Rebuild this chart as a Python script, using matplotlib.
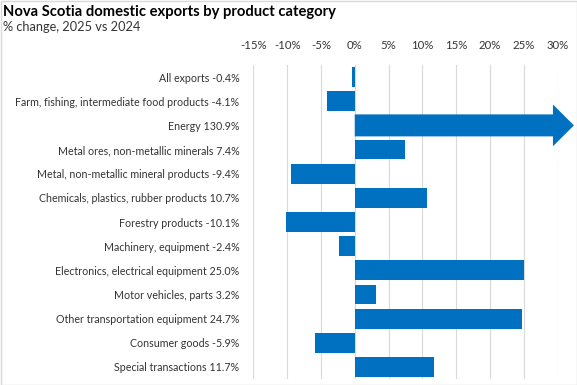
import matplotlib
matplotlib.use("Agg")
import matplotlib.pyplot as plt
from matplotlib.patches import Rectangle, FancyArrow

categories = ["All exports", "Farm, fishing, intermediate food products", "Energy",
              "Metal ores, non-metallic minerals", "Metal, non-metallic mineral products",
              "Chemicals, plastics, rubber products", "Forestry products",
              "Machinery, equipment", "Electronics, electrical equipment",
              "Motor vehicles, parts", "Other transportation equipment",
              "Consumer goods", "Special transactions"]
values = [-0.4, -4.1, 130.9, 7.4, -9.4, 10.7, -10.1, -2.4, 25.0, 3.2, 24.7, -5.9, 11.7]
xticks = [-15, -10, -5, 0, 5, 10, 15, 20, 25, 30]
xtick_labels = ["-15%", "-10%", "-5%", "0%", "5%", "10%", "15%", "20%", "25%", "30%"]

plt.rcParams['font.family'] = ['Lato', 'DejaVu Sans']
BLUE = "#0070C0"
GRID = "#D9D9D9"
TXT = "#333333"

fig = plt.figure(figsize=(5.77, 3.85), dpi=100)
ax = fig.add_axes([253.3/577, 1-379/385, (557.7-253.3)/577, (379-65)/385])
xmin, xmax = -15, 30
ax.set_xlim(xmin, xmax)
n = len(categories)
ax.set_ylim(n-0.5, -0.5)

ypos = list(range(n))
for i, v in enumerate(values):
    if v > xmax:
        # truncated value shown as arrow extending beyond the axis
        overshoot = 2.4
        length = xmax + overshoot
        arr = FancyArrow(0, i, length, 0, width=0.91, head_width=1.73,
                         head_length=3.1, length_includes_head=True,
                         color=BLUE, clip_on=False, zorder=3, linewidth=0)
        ax.add_patch(arr)
    else:
        ax.barh(i, v, height=0.82, color=BLUE, zorder=3)

ax.set_xticks(xticks)
ax.set_xticklabels(xtick_labels)
ax.xaxis.tick_top()
ax.tick_params(axis='x', length=0, pad=10, labelsize=8.2, labelcolor=TXT)
ax.set_yticks(ypos)
ax.set_yticklabels([f"{c} {v:.1f}%" for c, v in zip(categories, values)])
ax.tick_params(axis='y', length=0, pad=10, labelsize=7.7, labelcolor=TXT)
ax.grid(axis='x', color=GRID, linewidth=0.8, zorder=0)
for s in ax.spines.values():
    s.set_visible(False)

fig.text(3/577, 1-12/385, "Nova Scotia domestic exports by product category",
         fontsize=10.6, fontweight='bold', color='black', va='center', ha='left')
fig.text(3/577, 1-27/385, "% change, 2025 vs 2024",
         fontsize=9.2, color=TXT, va='center', ha='left')

fig.patches.append(Rectangle((0.5/577, 0.5/385), 1-1/577, 1-1/385,
                             transform=fig.transFigure, fill=False,
                             edgecolor=GRID, linewidth=1))
fig.savefig("out.png", dpi=100)
